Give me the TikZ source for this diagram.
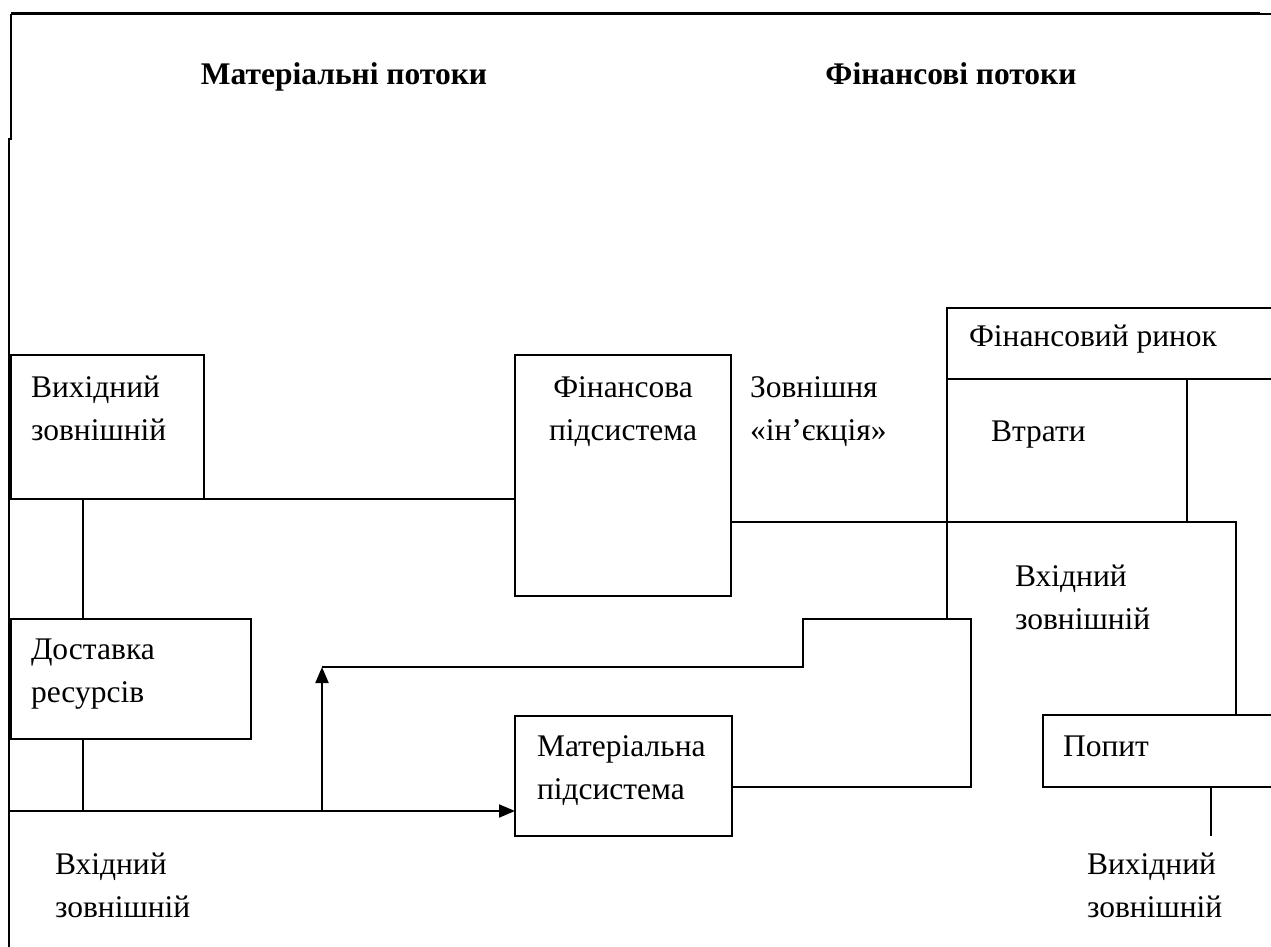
\documentclass[tikz,border=0pt]{standalone}
\usepackage{fontspec}
\setmainfont{Liberation Serif}
\usetikzlibrary{arrows.meta}
\begin{document}
\begin{tikzpicture}[x=1pt,y=-1pt,
  ln/.style={line width=2pt},
  box/.style={draw,ln,rectangle,inner sep=0pt,outer sep=0pt,anchor=north west},
  txt/.style={anchor=base west,inner sep=0pt,outer sep=0pt,align=left,
     font=\fontsize{31.5}{43}\selectfont},
  ctxt/.style={txt,anchor=base,align=center},
  head/.style={anchor=base,inner sep=0pt,font=\fontsize{31.5}{43}\selectfont\bfseries},
  arr/.style={ln,-{Triangle[length=16pt,width=13pt]}}]
\useasboundingbox (0,0) rectangle (1271,947);
\fill[white] (0,0) rectangle (1271,947);
% frame
\draw[line width=3pt] (11,14) -- (1260,14);
\draw[line width=2pt] (1260,14) -- (1271,14);
\draw[line width=2pt] (11,14) -- (11,140);
\draw[line width=2pt] (9,138) -- (9,947);
% headings
\node[head] (hmat) at (344,85) {Матеріальні потоки};
\node[head] (hfin) at (951,85) {Фінансові потоки};
% boxes
\node[box,minimum width=193pt,minimum height=144pt] (vyh) at (11,355) {};
\node[box,minimum width=216pt,minimum height=241pt] (fin) at (515,355) {};
\node[box,minimum width=240pt,minimum height=120pt] (dost) at (11,619) {};
\node[box,minimum width=217pt,minimum height=120pt] (mat) at (515,716) {};
% texts (base anchor = baseline of the last line)
\node[txt] (tvyh) at (31,440) {Вихідний\\зовнішній};
\node[ctxt] (tfin) at (623,440) {Фінансова\\підсистема};
\node[txt] (tinj) at (750,440) {Зовнішня\\«ін’єкція»};
\node[txt] (trynok) at (969,346) {Фінансовий ринок};
\node[txt] (tvtr) at (991,441) {Втрати};
\node[txt] (tvhr) at (1015,629) {Вхідний\\зовнішній};
\node[txt] (tdost) at (31,702) {Доставка\\ресурсів};
\node[txt] (tvhl) at (55,917) {Вхідний\\зовнішній};
\node[txt] (tmat) at (537,799) {Матеріальна\\підсистема};
\node[txt] (tpop) at (1063,756) {Попит};
\node[txt] (tvyr) at (1087,917) {Вихідний\\зовнішній};
% coordinates
\coordinate (xl) at (83,0);
\coordinate (rynokTL) at (947,308);
\coordinate (rynokTR) at (1271,308);
\coordinate (rynokML) at (947,379);
\coordinate (rynokMR) at (1271,379);
\coordinate (vtrT) at (1187,379);
\coordinate (vtrB) at (1187,522);
\coordinate (fr) at (1236,522);
\coordinate (popTL) at (1043,715);
\coordinate (popTR) at (1271,715);
\coordinate (popBL) at (1043,787);
\coordinate (popBR) at (1271,787);
\coordinate (popT) at (1236,715);
\coordinate (popB) at (1211,787);
\coordinate (popOut) at (1211,836);
\coordinate (mainL) at (9,811);
\coordinate (brA) at (322,811);
\coordinate (brB) at (322,667);
\coordinate (st1) at (803,667);
\coordinate (st2) at (803,619);
\coordinate (st3) at (971,619);
\coordinate (st4) at (971,787);
\coordinate (rynokB) at (947,619);
% market box and losses
\draw[ln] (rynokTR) -- (rynokTL) -- (rynokB);
\draw[ln] (rynokML) -- (rynokMR);
\draw[ln] (vtrT) -- (vtrB);
% demand box (open to the right)
\draw[ln] (popTR) -- (popTL) -- (popBL) -- (popBR);
\draw[ln] (popB) -- (popOut);
% connectors
\draw[ln] (vyh.south -| xl) -- (dost.north -| xl);
\draw[ln] (vyh.south east) -- (vyh.south east -| fin.west);
\draw[ln] (fin.east |- fr) -- (fr) -- (popT);
\draw[ln] (dost.south -| xl) -- (mainL -| xl);
\draw[arr] (mainL) -- (mainL -| mat.west);
\draw[arr] (brA) -- (brB);
\draw[ln] (brB) -- (st1) -- (st2) -- (st3) -- (st4) -- (st4 -| mat.east);
\end{tikzpicture}
\end{document}
